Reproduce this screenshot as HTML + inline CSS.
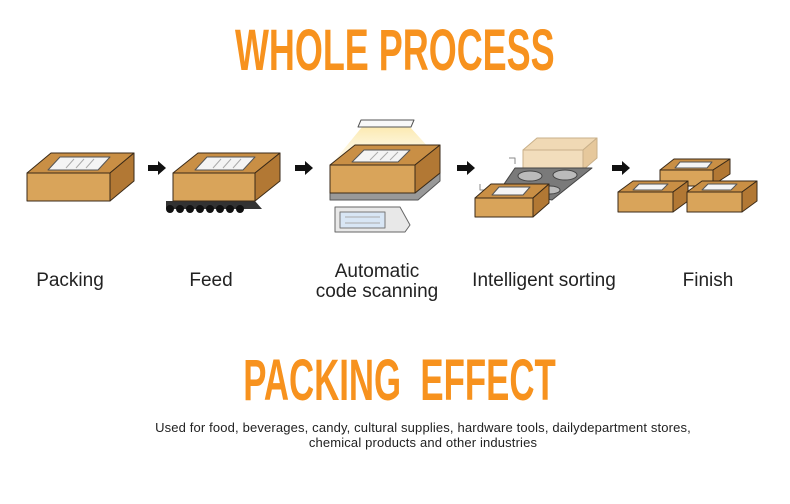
<!DOCTYPE html>
<html><head><meta charset="utf-8"><style>
html,body{margin:0;padding:0;background:#fff;}
body{width:790px;height:504px;position:relative;overflow:hidden;font-family:"Liberation Sans",sans-serif;}
.t{position:absolute;left:0;width:790px;text-align:center;color:#f7921e;font-weight:bold;font-size:58px;line-height:58px;}
.t span{display:inline-block;transform:scaleX(0.62);}
.l{position:absolute;font-size:19px;color:#222;text-align:center;line-height:20px;}
.d{position:absolute;left:0;width:846px;text-align:center;font-size:13px;color:#222;line-height:15px;letter-spacing:0.15px;}
</style></head><body>
<div class="t" style="top:22px;left:0px"><span>WHOLE PROCESS</span></div>
<div class="t" style="top:352px;left:4px"><span style="transform:scaleX(0.6)">PACKING&nbsp; EFFECT</span></div>

<svg width="790" height="260" style="position:absolute;left:0;top:0" viewBox="0 0 790 260">
<defs>
<linearGradient id="lg" x1="0" y1="0" x2="0" y2="1"><stop offset="0" stop-color="#fbe7a8" stop-opacity="0.9"/><stop offset="1" stop-color="#fdf3d0" stop-opacity="0.4"/></linearGradient>
</defs>
<g stroke="#3a2a18" stroke-width="1" stroke-linejoin="round">
<polygon points="27,173 51,153 134,153 110,173" fill="#c98f45"/>
<polygon points="110,173 134,153 134,181 110,201" fill="#b27834"/>
<rect x="27" y="173" width="83" height="28" fill="#d9a45a"/>
<polygon points="48,170 60,157 110,157 98,170" fill="#f4f4f4" stroke="#555"/>
<polygon points="166,201 255,201 262,209 166,209" fill="#333" stroke="none"/>
<polygon points="173,173 198,153 280,153 255,173" fill="#c98f45"/>
<polygon points="255,173 280,153 280,181 255,201" fill="#b27834"/>
<rect x="173" y="173" width="82" height="28" fill="#d9a45a"/>
<polygon points="195,170 207,157 255,157 243,170" fill="#f4f4f4" stroke="#555"/>
<polygon points="330,193 415,193 440,173 440,181 418,200 330,200" fill="#999" stroke="#555"/>
<polygon points="362,127 410,127 440,160 335,160" fill="url(#lg)" stroke="none"/>
<polygon points="358,127 361,120 414,120 411,127" fill="#f8f8f8" stroke="#555"/>
<polygon points="330,165 355,145 440,145 415,165" fill="#c98f45"/>
<polygon points="415,165 440,145 440,173 415,193" fill="#b27834"/>
<rect x="330" y="165" width="85" height="28" fill="#d9a45a"/>
<polygon points="352,162 364,150 410,150 398,162" fill="#f4f4f4" stroke="#555"/>
<polygon points="335,207 400,207 410,225 405,232 335,232" fill="#e8e8e8" stroke="#666"/>
<rect x="340" y="212" width="45" height="16" fill="#d8e6f5" stroke="#777"/>
<polygon points="523,150 537,138 597,138 583,150" fill="#f0d9b5" stroke="#c9b08a"/>
<polygon points="583,150 597,138 597,158 583,170" fill="#e6c89c" stroke="#c9b08a"/>
<rect x="523" y="150" width="60" height="20" fill="#f2ddbc" stroke="#c9b08a"/>
<polygon points="515,168 592,168 552,200 500,190" fill="#7a7a7a" stroke="#444"/>
<ellipse cx="530" cy="176" rx="12" ry="5" fill="#bbb" stroke="#444"/>
<ellipse cx="565" cy="175" rx="12" ry="5" fill="#bbb" stroke="#444"/>
<ellipse cx="550" cy="190" rx="10" ry="4" fill="#bbb" stroke="#444"/>
<polyline points="480,184 480,190 486,190" fill="none" stroke="#888"/>
<polyline points="509,158 515,158 515,164" fill="none" stroke="#888"/>
<polygon points="475,198 491,184 549,184 533,198" fill="#c98f45"/>
<polygon points="533,198 549,184 549,203 533,217" fill="#b27834"/>
<rect x="475" y="198" width="58" height="19" fill="#d9a45a"/>
<polygon points="492,195 499,187 530,187 523,195" fill="#f4f4f4" stroke="#555"/>
<polygon points="660,170 674,159 730,159 713,170" fill="#c98f45"/>
<polygon points="713,170 730,159 730,174 713,185" fill="#b27834"/>
<rect x="660" y="170" width="53" height="16" fill="#d9a45a"/>
<polygon points="675,168 680,162 712,162 707,168" fill="#f4f4f4" stroke="#555"/>
<polygon points="618,192 633,181 688,181 673,192" fill="#c98f45"/>
<polygon points="673,192 688,181 688,201 673,212" fill="#b27834"/>
<rect x="618" y="192" width="55" height="20" fill="#d9a45a"/>
<polygon points="633,190 639,184 668,184 662,190" fill="#f4f4f4" stroke="#555"/>
<polygon points="687,192 702,181 757,181 742,192" fill="#c98f45"/>
<polygon points="742,192 757,181 757,201 742,212" fill="#b27834"/>
<rect x="687" y="192" width="55" height="20" fill="#d9a45a"/>
<polygon points="702,190 708,184 737,184 731,190" fill="#f4f4f4" stroke="#555"/>
</g>
<g stroke="#aaa" stroke-width="1">
<line x1="66" y1="168" x2="74" y2="159"/><line x1="76" y1="168" x2="84" y2="159"/><line x1="86" y1="168" x2="94" y2="159"/>
<line x1="213" y1="168" x2="221" y2="159"/><line x1="223" y1="168" x2="231" y2="159"/><line x1="233" y1="168" x2="241" y2="159"/>
<line x1="370" y1="160" x2="378" y2="152"/><line x1="380" y1="160" x2="388" y2="152"/><line x1="390" y1="160" x2="398" y2="152"/>
<line x1="345" y1="217" x2="380" y2="217"/><line x1="345" y1="223" x2="380" y2="223"/>
</g>
<g fill="#111">
<circle cx="170" cy="209" r="4"/><circle cx="180" cy="209" r="4"/><circle cx="190" cy="209" r="4"/><circle cx="200" cy="209" r="4"/>
<circle cx="210" cy="209" r="4"/><circle cx="220" cy="209" r="4"/><circle cx="230" cy="209" r="4"/><circle cx="240" cy="209" r="4"/>
<polygon points="148,165 158,165 158,161 166,168 158,175 158,171 148,171"/>
<polygon points="295,165 305,165 305,161 313,168 305,175 305,171 295,171"/>
<polygon points="457,165 467,165 467,161 475,168 467,175 467,171 457,171"/>
<polygon points="612,165 622,165 622,161 630,168 622,175 622,171 612,171"/>
</g>
</svg>

<div class="l" style="left:20px;width:100px;top:271px">Packing</div>
<div class="l" style="left:161px;width:100px;top:271px">Feed</div>
<div class="l" style="left:297px;width:160px;top:262px">Automatic<br>code scanning</div>
<div class="l" style="left:454px;width:180px;top:271px">Intelligent sorting</div>
<div class="l" style="left:658px;width:100px;top:271px">Finish</div>
<div class="d" style="top:420px">Used for food, beverages, candy, cultural supplies, hardware tools, dailydepartment stores,<br>chemical products and other industries</div>
</body></html>
